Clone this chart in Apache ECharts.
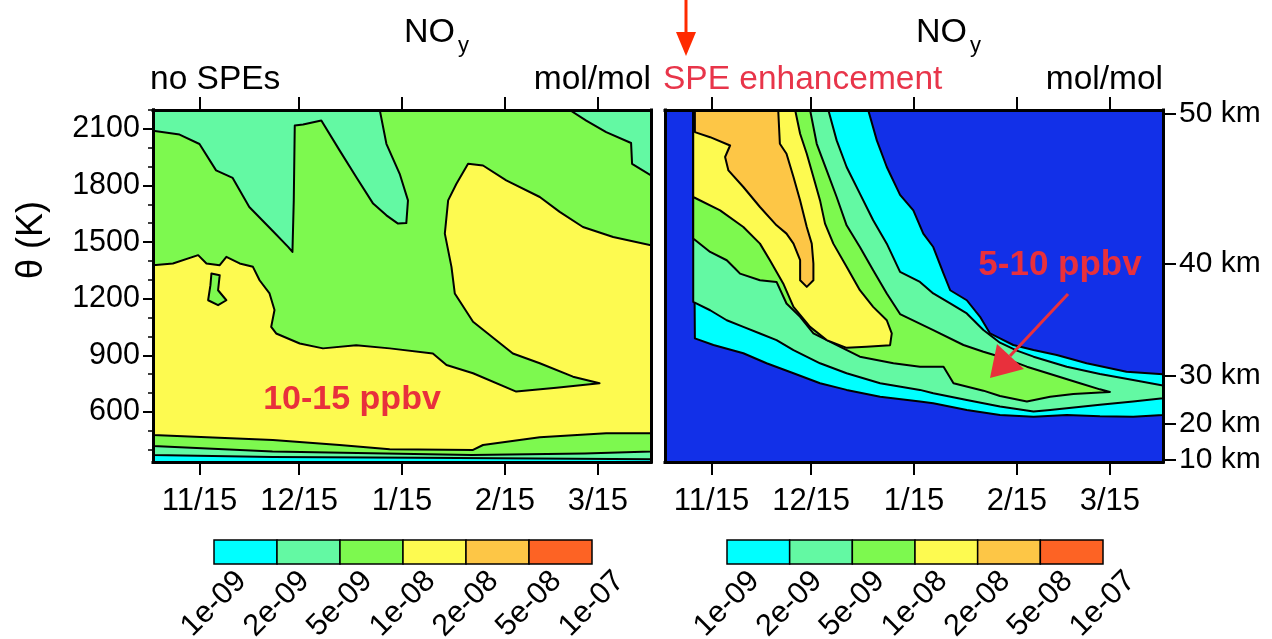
<!DOCTYPE html>
<html><head><meta charset="utf-8">
<script src="https://cdn.jsdelivr.net/npm/echarts@6/dist/echarts.min.js"></script>
<style>html,body{margin:0;padding:0;background:#fff}#c{width:1272px;height:639px}</style>
</head><body><div id="c"></div>
<script>
// ---- axes / ticks ----
const dayMin = 0, dayMax = 150;            // days since Nov 1
const thetaMin = 335, thetaMax = 2200;     // potential temperature (K)
const dateTicks = [14, 44, 75, 106, 134];
const dateLabels = ['11/15', '12/15', '1/15', '2/15', '3/15'];
const thetaTicks = [600, 900, 1200, 1500, 1800, 2100];
const thetaMinorTicks = [400, 500, 700, 800, 1000, 1100, 1300, 1400, 1600, 1700, 1900, 2000, 2200];
const kmLabels = ['50 km', '40 km', '30 km', '20 km', '10 km'];
const kmThetaPos = [2181, 1388, 790, 536, 346];
const levelLabels = ['1e-09', '2e-09', '5e-09', '1e-08', '2e-08', '5e-08', '1e-07'];
const levelColors = ['#00ffff', '#63f9a3', '#7df94f', '#fdfa50', '#fdc646', '#fd6324'];
const belowColor = '#1230e8';

// ---- left panel (no SPEs) contour regions: [day, theta] ----
const leftDomain = [[0, 335], [150, 335], [150, 2200], [0, 2200]];
const leftMintAbove = [[0, 372], [36, 362], [80, 357], [150, 350], [150, 2200], [0, 2200]];
const leftGreenAbove = [[0, 420], [36, 390], [70, 380], [96, 372], [130, 380], [150, 390], [150, 2200], [0, 2200]];
const leftMintTopA = [[0, 2200], [0, 2090], [8, 2070], [14, 2020], [19, 1880], [24, 1840], [29, 1686], [36, 1560], [40.7, 1475], [42, 1448], [42.4, 1720], [42.7, 2118], [45.2, 2123], [50.7, 2144], [56.2, 1986], [61.2, 1845], [66.3, 1704], [70.3, 1642], [73.8, 1598], [76.3, 1601], [76.8, 1721], [74.3, 1862], [70.3, 2021], [68.3, 2200]];
const leftMintTopB = [[125.5, 2200], [130.5, 2144], [136.5, 2083], [144, 2025], [144.3, 1915], [150, 1853], [150, 2200]];
const leftYellow = [[0, 1378], [6, 1387], [13.6, 1431], [16.1, 1387], [20.1, 1378], [22.1, 1422], [26.1, 1387], [30.1, 1369], [32.1, 1298], [35.1, 1228], [36.6, 1140], [35.6, 1051], [37.1, 1016], [44.2, 963], [51.2, 937], [61.2, 954], [71.3, 937], [84.3, 910], [88.4, 849], [96.4, 805], [109.4, 708], [121.5, 728], [134.5, 752], [126.5, 787], [116.5, 858], [108.4, 910], [96.4, 1078], [90.9, 1228], [89.9, 1369], [87.9, 1545], [88.9, 1721], [91.4, 1809], [94.9, 1915], [99.4, 1906], [106.4, 1827], [116.5, 1739], [122.5, 1660], [129.5, 1580], [138.6, 1527], [150, 1483], [150, 487], [136.5, 487], [116.5, 466], [99.4, 425], [96.4, 399], [71.3, 402], [56.2, 425], [36.1, 452], [0, 478]];
const leftGreenIsland = [[17.6, 1334], [20.1, 1325], [19.6, 1245], [22.1, 1192], [19.6, 1166], [16.6, 1192], [17.3, 1272]];

// ---- right panel (SPE enhancement) contour regions ----
const rightDomain = [[0, 335], [150, 335], [150, 2200], [0, 2200]];
const rightCyan = [[8.5, 2200], [61.2, 2200], [63.8, 2039], [66.8, 1898], [70.8, 1750], [74.8, 1668], [77.8, 1545], [80.8, 1474], [83.9, 1333], [85.9, 1245], [90.9, 1192], [94.9, 1104], [97.9, 1016], [100.9, 990], [104.9, 955], [111, 928], [118, 902], [127, 858], [139, 813], [150, 800], [150, 584], [141, 575], [131, 577], [121, 584], [111, 575], [100.9, 584], [90.9, 611], [80.8, 646], [76.8, 655], [64.8, 681], [54.7, 717], [46.7, 752], [38.7, 805], [30.6, 858], [23.6, 911], [14.6, 955], [9, 990]];
const rightMint = [[8.5, 2200], [49.2, 2200], [51.7, 2039], [54.7, 1898], [58.7, 1757], [62.7, 1616], [66.8, 1492], [70.8, 1342], [76.8, 1289], [80.8, 1228], [85.9, 1175], [90.9, 1122], [95.9, 1034], [100.9, 967], [106, 925], [111, 893], [121, 840], [131, 801], [141, 770], [150, 740], [150, 673], [141, 655], [131, 638], [121, 620], [116, 611], [111, 602], [100.9, 629], [90.9, 664], [80.8, 699], [76.8, 717], [64.8, 752], [54.7, 805], [46.7, 858], [38.7, 928], [33.6, 981], [28.6, 1016], [23.6, 1051], [18.6, 1086], [13.6, 1139], [8.5, 1183]];
const rightGreen = [[8.5, 2200], [43.7, 2200], [45.7, 2021], [48.7, 1880], [51.7, 1739], [54.7, 1589], [58.7, 1474], [62.7, 1351], [66.8, 1228], [70.8, 1119], [80.8, 1034], [89.9, 955], [95.9, 919], [100.9, 893], [109, 840], [117, 796], [125, 752], [131, 720], [134, 706], [131, 703], [123, 695], [116, 681], [109, 655], [100.9, 685], [95.9, 713], [86.9, 752], [83.9, 840], [76.8, 840], [68.8, 858], [58.7, 893], [50.7, 963], [44.7, 1016], [40.7, 1104], [36.6, 1175], [33.6, 1289], [28.6, 1298], [22.6, 1333], [21.1, 1360], [18.6, 1404], [13.6, 1448], [8.5, 1519]];
const rightYellow = [[8.5, 2200], [39.2, 2200], [40.7, 2074], [42.7, 1968], [44.7, 1845], [46.7, 1721], [48.2, 1598], [50.7, 1492], [54.7, 1369], [58.7, 1245], [62.7, 1157], [66.8, 1086], [68.3, 1016], [67.8, 954], [60.7, 946], [54.7, 940], [48.7, 981], [43.7, 1051], [38.7, 1157], [35.6, 1281], [31.6, 1404], [28.6, 1492], [23.6, 1580], [16.6, 1668], [8.5, 1739]];
const rightOrange = [[9, 2200], [34.1, 2200], [34.6, 2021], [36.6, 1968], [38.7, 1845], [40.7, 1721], [42.7, 1580], [44.2, 1492], [44.7, 1386], [44.7, 1298], [42.7, 1263], [40.7, 1298], [40.7, 1404], [38.7, 1492], [36.6, 1545], [33.6, 1589], [28.6, 1686], [23.6, 1792], [19.1, 1880], [18.1, 1951], [19.6, 2012], [13.6, 2056], [9, 2083]];

// layer lists (painted in order); level index -> colour
const leftLayers = [
  { pts: leftDomain, level: 0, line: false },
  { pts: leftMintAbove, level: 1, line: true },
  { pts: leftGreenAbove, level: 2, line: true },
  { pts: leftMintTopA, level: 1, line: true },
  { pts: leftMintTopB, level: 1, line: true },
  { pts: leftYellow, level: 3, line: true },
  { pts: leftGreenIsland, level: 2, line: true }
];
const rightLayers = [
  { pts: rightDomain, level: -1, line: false },
  { pts: rightCyan, level: 0, line: true },
  { pts: rightMint, level: 1, line: true },
  { pts: rightGreen, level: 2, line: true },
  { pts: rightYellow, level: 3, line: true },
  { pts: rightOrange, level: 4, line: true }
];

const FONT = 'Liberation Sans, Arial, Helvetica, sans-serif';
const chart = echarts.init(document.getElementById('c'), null, { renderer: 'canvas' });

function polySeries(gi, layers) {
  return {
    type: 'custom', coordinateSystem: 'cartesian2d',
    xAxisIndex: gi * 2, yAxisIndex: gi * 3, clip: true, silent: true, z: 2,
    data: layers.map((l, i) => [i]),
    renderItem: function (params, api) {
      const L = layers[params.dataIndex];
      return {
        type: 'polygon',
        shape: { points: L.pts.map(p => api.coord(p)) },
        style: {
          fill: L.level < 0 ? belowColor : levelColors[L.level],
          stroke: L.line ? '#000' : null,
          lineWidth: 2, lineJoin: 'round'
        }
      };
    }
  };
}

const axisLineStyle = { show: true, onZero: false, lineStyle: { color: '#000', width: 3, cap: 'square' } };
function xAxes(gi) {
  return [
    { gridIndex: gi, type: 'value', min: dayMin, max: dayMax, position: 'bottom', z: 10,
      axisLine: axisLineStyle, splitLine: { show: false },
      axisTick: { show: true, length: 13, customValues: dateTicks, lineStyle: { color: '#000', width: 2 } },
      axisLabel: { show: true, customValues: dateTicks, margin: 24, fontSize: 31, lineHeight: 31, color: '#000', fontFamily: FONT,
        formatter: v => dateLabels[dateTicks.indexOf(v)] } },
    { gridIndex: gi, type: 'value', min: dayMin, max: dayMax, position: 'top', z: 10,
      axisLine: axisLineStyle, splitLine: { show: false },
      axisTick: { show: true, length: 13, customValues: dateTicks, lineStyle: { color: '#000', width: 2 } },
      axisLabel: { show: false } }
  ];
}
const yAxes = [
  // left grid
  { gridIndex: 0, type: 'value', min: thetaMin, max: thetaMax, position: 'left', z: 10,
    axisLine: axisLineStyle, splitLine: { show: false },
    axisTick: { show: true, length: 10, customValues: thetaTicks, lineStyle: { color: '#000', width: 2 } },
    axisLabel: { show: true, customValues: thetaTicks, margin: 13, fontSize: 30.5, color: '#000', fontFamily: FONT,
      formatter: v => String(v) } },
  { gridIndex: 0, type: 'value', min: thetaMin, max: thetaMax, position: 'left', z: 10,
    axisLine: axisLineStyle, splitLine: { show: false },
    axisTick: { show: true, length: 5, customValues: thetaMinorTicks, lineStyle: { color: '#000', width: 1.5 } },
    axisLabel: { show: false } },
  { gridIndex: 0, type: 'value', min: thetaMin, max: thetaMax, position: 'right', z: 10,
    axisLine: axisLineStyle, splitLine: { show: false }, axisTick: { show: false }, axisLabel: { show: false } },
  // right grid
  { gridIndex: 1, type: 'value', min: thetaMin, max: thetaMax, position: 'left', z: 10,
    axisLine: axisLineStyle, splitLine: { show: false }, axisTick: { show: false }, axisLabel: { show: false } },
  { gridIndex: 1, type: 'value', min: thetaMin, max: thetaMax, position: 'left', show: false },
  { gridIndex: 1, type: 'value', min: thetaMin, max: thetaMax, position: 'right', z: 10,
    axisLine: axisLineStyle, splitLine: { show: false },
    axisTick: { show: true, length: 13, customValues: kmThetaPos, lineStyle: { color: '#000', width: 2 } },
    axisLabel: { show: true, customValues: kmThetaPos, margin: 16, fontSize: 30, color: '#000', fontFamily: FONT,
      formatter: v => kmLabels[kmThetaPos.indexOf(v)] } }
];

// colour bars built from levelColors / levelLabels
function colorbar(x0, width) {
  const els = [];
  const n = levelColors.length, w = width / n;
  levelColors.forEach((c, i) => {
    els.push({ type: 'rect', z: 50, shape: { x: x0 + i * w, y: 540, width: w, height: 24 },
      style: { fill: c, stroke: '#000', lineWidth: 1.5 } });
  });
  levelLabels.forEach((t, i) => {
    els.push({ type: 'text', z: 50, x: x0 + i * w, y: 604, rotation: Math.PI / 4,
      style: { text: t, fontSize: 30.5, fontFamily: FONT, fill: '#000', align: 'center', verticalAlign: 'middle' } });
  });
  return els;
}

const txt = (s, x, y, size, opts) => Object.assign({ type: 'text', z: 60, x: x, y: y,
  style: Object.assign({ text: s, fontSize: size, fontFamily: FONT, fill: '#000', verticalAlign: 'middle', align: 'left' }, opts || {}) });

const thetaTitle = txt('θ (K)', 32, 240, 36, { align: 'center' });
thetaTitle.rotation = Math.PI / 2;

const graphics = [].concat(
  colorbar(214, 378), colorbar(727, 376),
  [
    thetaTitle,
    txt('NO', 404, 33, 34), txt('y', 458, 46, 22),
    txt('NO', 916, 33, 34), txt('y', 970, 46, 22),
    txt('no SPEs', 150, 80, 33.5),
    txt('mol/mol', 651, 80, 33.5, { align: 'right' }),
    txt('SPE enhancement', 663, 80, 33.5, { fill: '#e8354a' }),
    txt('mol/mol', 1163, 80, 33.5, { align: 'right' }),
    txt('10-15 ppbv', 352, 400, 34, { align: 'center', fontWeight: 'bold', fill: '#e8303c' }),
    txt('5-10 ppbv', 1060, 265, 35, { align: 'center', fontWeight: 'bold', fill: '#e8303c' }),
    // SPE arrow (top)
    { type: 'line', z: 60, shape: { x1: 686, y1: 0, x2: 686, y2: 36 }, style: { stroke: '#ff2a00', lineWidth: 3 } },
    { type: 'polygon', z: 60, shape: { points: [[676, 32], [696, 32], [686, 56]] }, style: { fill: '#ff2a00' } },
    // pointer arrow (right panel)
    { type: 'line', z: 60, shape: { x1: 1068, y1: 294, x2: 1010, y2: 356 }, style: { stroke: '#e8303c', lineWidth: 3 } },
    { type: 'polygon', z: 60, shape: { points: [[990, 378], [997, 344], [1024, 369]] }, style: { fill: '#e8303c' } }
  ]
);

chart.setOption({
  animation: false,
  backgroundColor: '#fff',
  grid: [
    { left: 153, top: 110, width: 498, height: 352, show: false },
    { left: 665, top: 110, width: 498, height: 352, show: false }
  ],
  xAxis: [].concat(xAxes(0), xAxes(1)),
  yAxis: yAxes,
  series: [polySeries(0, leftLayers), polySeries(1, rightLayers)],
  graphic: { elements: graphics }
});
</script>
</body></html>
